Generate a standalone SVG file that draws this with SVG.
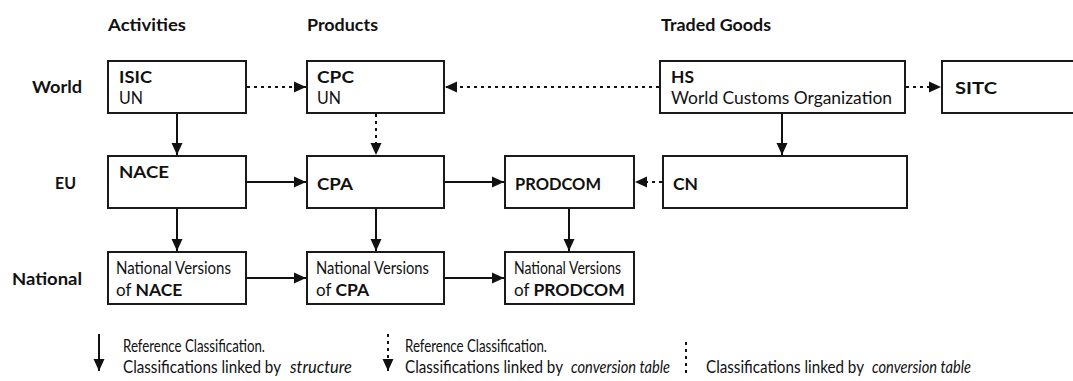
<svg xmlns="http://www.w3.org/2000/svg" width="1073" height="381" viewBox="0 0 1073 381">
<defs>
<marker id="ah" markerUnits="userSpaceOnUse" markerWidth="13" markerHeight="12" refX="12" refY="6" orient="auto">
<path d="M0,0.5 L12,6 L0,11.5 z" fill="#111"/>
</marker>
</defs>
<style>
.box{fill:#fff;stroke:#1a1a1a;stroke-width:2}
text{font-family:Lato,"Open Sans","Liberation Sans",sans-serif;fill:#111;font-size:17px}
.b{font-weight:700;font-size:17.5px}
.l{font-size:16.5px}
.i{font-style:italic}
.solid{stroke:#111;stroke-width:2;fill:none;marker-end:url(#ah)}
.dot{stroke:#111;stroke-width:2;fill:none;stroke-dasharray:3 4;marker-end:url(#ah)}
.dotn{stroke:#111;stroke-width:2;fill:none;stroke-dasharray:3 4}
</style>
<rect width="1073" height="381" fill="#fff"/>

<g id="headers">
<text class="b" x="108" y="31" textLength="78" lengthAdjust="spacingAndGlyphs">Activities</text>
<text class="b" x="307" y="31" textLength="71" lengthAdjust="spacingAndGlyphs">Products</text>
<text class="b" x="661" y="31" textLength="110" lengthAdjust="spacingAndGlyphs">Traded Goods</text>
<text class="b" x="32" y="93" textLength="50" lengthAdjust="spacingAndGlyphs">World</text>
<text class="b" x="55" y="189" textLength="21" lengthAdjust="spacingAndGlyphs">EU</text>
<text class="b" x="12" y="285" textLength="70" lengthAdjust="spacingAndGlyphs">National</text>
</g>

<g id="connectors">
<line class="dot" x1="247" y1="87" x2="306" y2="87"/>
<line class="dot" x1="659" y1="87" x2="445" y2="87"/>
<line class="dot" x1="906" y1="87" x2="941" y2="87"/>
<line class="solid" x1="177" y1="114" x2="177" y2="155"/>
<line class="dot" x1="376" y1="114" x2="376" y2="155"/>
<line class="solid" x1="782" y1="114" x2="782" y2="155"/>
<line class="solid" x1="247" y1="182" x2="306" y2="182"/>
<line class="solid" x1="445" y1="182" x2="504" y2="182"/>
<line class="dot" x1="662" y1="182" x2="635" y2="182"/>
<line class="solid" x1="177" y1="209" x2="177" y2="251"/>
<line class="solid" x1="376" y1="209" x2="376" y2="251"/>
<line class="solid" x1="569" y1="209" x2="569" y2="251"/>
<line class="solid" x1="247" y1="278" x2="306" y2="278"/>
<line class="solid" x1="445" y1="278" x2="504" y2="278"/>
</g>

<g id="isic">
<rect class="box" x="108" y="61" width="138" height="52"/>
<text class="b" x="119" y="83" textLength="33" lengthAdjust="spacingAndGlyphs">ISIC</text>
<text x="119" y="104" textLength="24" lengthAdjust="spacingAndGlyphs">UN</text>
</g>
<g id="cpc">
<rect class="box" x="307" y="61" width="137" height="52"/>
<text class="b" x="317" y="83" textLength="37" lengthAdjust="spacingAndGlyphs">CPC</text>
<text x="317" y="104" textLength="24" lengthAdjust="spacingAndGlyphs">UN</text>
</g>
<g id="hs">
<rect class="box" x="660" y="61" width="245" height="52"/>
<text class="b" x="671" y="83" textLength="23" lengthAdjust="spacingAndGlyphs">HS</text>
<text x="671" y="104" textLength="221" lengthAdjust="spacingAndGlyphs">World Customs Organization</text>
</g>
<g id="sitc">
<rect class="box" x="942" y="61" width="140" height="52"/>
<text class="b" x="955" y="94" textLength="42" lengthAdjust="spacingAndGlyphs">SITC</text>
</g>
<g id="nace">
<rect class="box" x="108" y="156" width="138" height="52"/>
<text class="b" x="119" y="178" textLength="50" lengthAdjust="spacingAndGlyphs">NACE</text>
</g>
<g id="cpa">
<rect class="box" x="307" y="156" width="137" height="52"/>
<text class="b" x="317" y="190" textLength="36" lengthAdjust="spacingAndGlyphs">CPA</text>
</g>
<g id="prodcom">
<rect class="box" x="505" y="156" width="129" height="52"/>
<text class="b" x="515" y="190" textLength="86" lengthAdjust="spacingAndGlyphs">PRODCOM</text>
</g>
<g id="cn">
<rect class="box" x="663" y="156" width="244" height="52"/>
<text class="b" x="673" y="190" textLength="25" lengthAdjust="spacingAndGlyphs">CN</text>
</g>
<g id="nat-nace">
<rect class="box" x="108" y="252" width="138" height="52"/>
<text x="116" y="274" textLength="115" lengthAdjust="spacingAndGlyphs">National Versions</text>
<text x="116" y="296">of <tspan class="b">NACE</tspan></text>
</g>
<g id="nat-cpa">
<rect class="box" x="307" y="252" width="137" height="52"/>
<text x="316" y="274" textLength="113" lengthAdjust="spacingAndGlyphs">National Versions</text>
<text x="316" y="296">of <tspan class="b">CPA</tspan></text>
</g>
<g id="nat-prodcom">
<rect class="box" x="505" y="252" width="129" height="52"/>
<text x="514" y="274" textLength="107" lengthAdjust="spacingAndGlyphs">National Versions</text>
<text x="514" y="296">of <tspan class="b">PRODCOM</tspan></text>
</g>

<g id="legend">
<line class="solid" x1="99" y1="334" x2="99" y2="371"/>
<text class="l" x="123" y="352" textLength="142" lengthAdjust="spacingAndGlyphs">Reference Classification.</text>
<text class="l" x="123" y="373" textLength="158" lengthAdjust="spacingAndGlyphs">Classifications linked by</text>
<text class="l i" x="290" y="373" textLength="62" lengthAdjust="spacingAndGlyphs">structure</text>
<line class="dot" x1="388" y1="334" x2="388" y2="371"/>
<text class="l" x="405" y="352" textLength="142" lengthAdjust="spacingAndGlyphs">Reference Classification.</text>
<text class="l" x="405" y="373" textLength="158" lengthAdjust="spacingAndGlyphs">Classifications linked by</text>
<text class="l i" x="571" y="373" textLength="99" lengthAdjust="spacingAndGlyphs">conversion table</text>
<line class="dotn" x1="686" y1="342" x2="686" y2="374"/>
<text class="l" x="706" y="373" textLength="158" lengthAdjust="spacingAndGlyphs">Classifications linked by</text>
<text class="l i" x="872" y="373" textLength="99" lengthAdjust="spacingAndGlyphs">conversion table</text>
</g>
</svg>
